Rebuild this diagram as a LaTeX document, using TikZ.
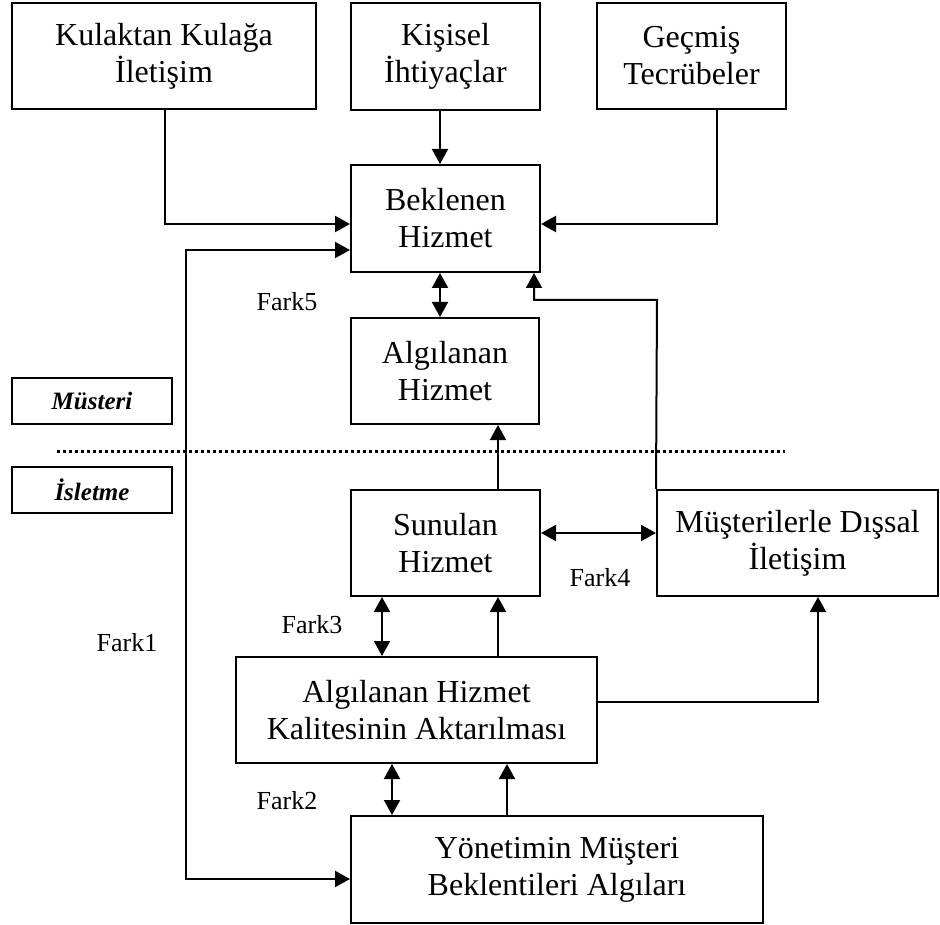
\documentclass[tikz,border=0pt]{standalone}
\usepackage{fontspec}
\setmainfont{Liberation Serif}
\usetikzlibrary{arrows.meta}
\begin{document}
\begin{tikzpicture}[x=1pt,y=-1pt,
  box/.style={draw, line width=2pt, align=center, inner sep=0pt,
    font=\fontsize{32}{37}\selectfont},
  tag/.style={draw, line width=2pt, align=center, inner sep=0pt,
    font=\fontsize{25}{30}\selectfont\bfseries\itshape},
  fark/.style={font=\fontsize{26}{30}\selectfont, inner sep=0pt},
  arr/.style={line width=2pt, -{Triangle[length=15pt,width=16pt]}},
  darr/.style={line width=2pt, {Triangle[length=15pt,width=16pt]}-{Triangle[length=15pt,width=16pt]}},
  line/.style={line width=2pt}]
\useasboundingbox (0,0) rectangle (940,925);
% boxes
\node[box, minimum width=304pt, minimum height=106pt] (kul) at (164,56) {Kulaktan Kulağa\\İletişim};
\node[box, minimum width=189pt, minimum height=107pt] (kis) at (445.5,56.5) {Kişisel\\İhtiyaçlar};
\node[box, minimum width=189pt, minimum height=106pt] (gec) at (691.5,56) {Geçmiş\\Tecrübeler};
\node[box, minimum width=189pt, minimum height=107pt] (bek) at (445.5,218.5) {Beklenen\\Hizmet};
\node[box, minimum width=188pt, minimum height=106pt] (alg) at (445,371) {Algılanan\\Hizmet};
\node[tag, minimum width=160pt, minimum height=46pt] (mus) at (92,401) {Müsteri};
\node[tag, minimum width=160pt, minimum height=46pt] (isl) at (92,490) {İsletme};
\node[box, minimum width=189pt, minimum height=106pt] (sun) at (445.5,543) {Sunulan\\Hizmet};
\node[box, minimum width=281pt, minimum height=106pt] (dis) at (797.5,543) {Müşterilerle Dışsal\\İletişim};
\node[box, minimum width=361pt, minimum height=106pt] (akt) at (416.5,710) {Algılanan Hizmet\\Kalitesinin Aktarılması};
\node[box, minimum width=412pt, minimum height=107pt] (yon) at (557,869.5) {Yönetimin Müşteri\\Beklentileri Algıları};
% labels
\node[fark] (f5) at (287,302) {Fark5};
\node[fark] (f4) at (600,578) {Fark4};
\node[fark] (f3) at (312,625) {Fark3};
\node[fark] (f2) at (287,801) {Fark2};
\node[fark] (f1) at (127,643) {Fark1};
% dotted separator
\coordinate (dl) at (57,451);
\coordinate (dr) at (785,451);
\draw[line width=3pt, dash pattern=on 3pt off 3pt] (dl) -- (dr);
% connectors
\draw[arr] (kul.south -| 165,0) |- (bek.west |- 0,224);
\draw[arr] (kis.south -| 440,0) -- (bek.north -| 440,0);
\draw[arr] (gec.south -| 717,0) |- (bek.east |- 0,224);
\coordinate (c1) at (186,250);
\coordinate (c2) at (186,879);
\draw[darr] (bek.west |- 0,250) -- (c1) -- (c2) -- (yon.west |- 0,879);
\draw[darr] (bek.south -| 440,0) -- (alg.north -| 440,0);
\coordinate (c3) at (657,300);
\draw[arr] (dis.north west) -- (c3) -| (bek.south -| 534,0);
\draw[arr] (sun.north -| 498,0) -- (alg.south -| 498,0);
\draw[darr] (sun.east |- 0,533) -- (dis.west |- 0,533);
\draw[darr] (sun.south -| 382,0) -- (akt.north -| 382,0);
\draw[arr] (akt.north -| 498,0) -- (sun.south -| 498,0);
\draw[arr] (akt.east |- 0,702) -| (dis.south -| 818,0);
\draw[darr] (akt.south -| 392,0) -- (yon.north -| 392,0);
\draw[arr] (yon.north -| 507,0) -- (akt.south -| 507,0);
\end{tikzpicture}
\end{document}
